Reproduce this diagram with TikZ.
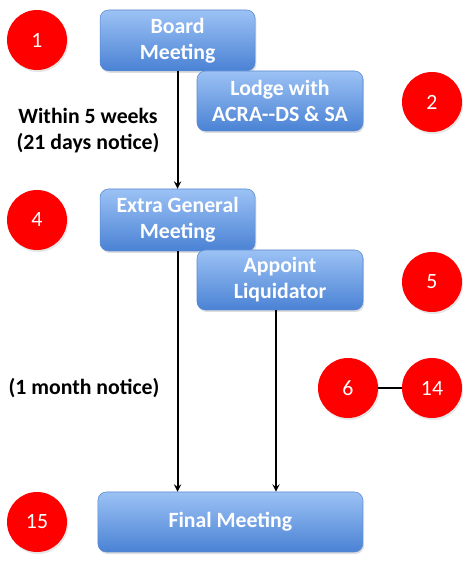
\documentclass[tikz,border=0pt]{standalone}
\usepackage{fontspec}
\setmainfont{Carlito}
\usepackage{xcolor}
\usepackage{tikz}
\usetikzlibrary{shapes,arrows,positioning,calc,shadows}
\definecolor{boxtop}{HTML}{9CC2F5}
\definecolor{boxbot}{HTML}{4A82D4}
\definecolor{boxline}{HTML}{5A8AD0}
\tikzstyle{stage} = [rectangle, rounded corners=6pt, minimum width=3.875cm, minimum height=1.52cm, text centered, align=center, draw=boxline, top color=boxtop, bottom color=boxbot, text=white, font=\fontsize{15.5}{18.5}\selectfont\bfseries, drop shadow={opacity=0.25, shadow xshift=0.03cm, shadow yshift=-0.05cm}]
\tikzstyle{stepno} = [circle, minimum size=1.5cm, inner sep=0pt, fill=red, text=white, font=\fontsize{15.5}{18}\selectfont, drop shadow={opacity=0.2, shadow xshift=0.03cm, shadow yshift=-0.05cm}]
\tikzstyle{note} = [align=center, font=\fontsize{15.5}{18.5}\selectfont\bfseries]
\tikzstyle{arrow} = [line width=1.3pt,->,>=stealth]

\begin{document}
\begin{tikzpicture}
\useasboundingbox (0,0) rectangle (11.7,14.05);

% Boxes
\node (board) [stage] at (4.44,13.04) {Board\\Meeting};
\node (lodge) [stage, minimum width=4.15cm, minimum height=1.5cm] at (7.0,11.525) {Lodge with\\ACRA{-}{-}DS \& SA};
\node (egm) [stage, minimum height=1.55cm] at (4.44,8.55) {Extra General\\Meeting};
\node (appoint) [stage, minimum width=4.15cm, minimum height=1.5cm] at (7.0,7.05) {Appoint\\Liquidator};
\node (final) [stage, minimum width=6.625cm, minimum height=1.5cm] at (5.76,1.0) {Final Meeting};

% Step numbers
\node (n1) [stepno] at (0.925,13.05) {1};
\node (n2) [stepno] at (10.8,11.5) {2};
\node (n4) [stepno] at (0.925,8.55) {4};
\node (n5) [stepno] at (10.8,7.0) {5};
\node (n6) [stepno] at (8.7,4.35) {6};
\node (n14) [stepno] at (10.8,4.35) {14};
\node (n15) [stepno] at (0.925,1.0) {15};

% Notices
\node (weeks) [note] at (2.2,10.78) {Within 5 weeks\\(21 days notice)};
\node (month) [note] at (2.1,4.35) {(1 month notice)};

% Arrows
\draw [arrow] (board) -- (egm);
\draw [arrow] (egm) -- (egm |- final.north);
\draw [arrow] ([xshift=-0.1cm]appoint.south) -- ([xshift=-0.1cm]appoint.south |- final.north);
\draw [line width=1.3pt] (n6) -- (n14);

\end{tikzpicture}
\end{document}
